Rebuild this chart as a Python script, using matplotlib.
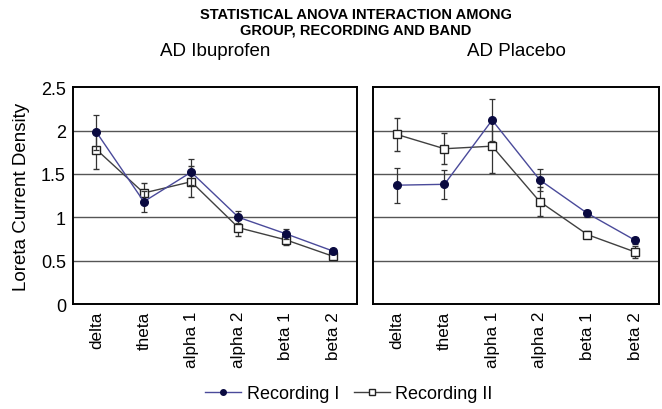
import matplotlib
matplotlib.use("Agg")
import matplotlib.pyplot as plt
from matplotlib.lines import Line2D
import numpy as np

plt.rcParams['font.family'] = ['Liberation Sans', 'DejaVu Sans']

bands = ['delta', 'theta', 'alpha 1', 'alpha 2', 'beta 1', 'beta 2']

# AD Ibuprofen
ibu_rec1 = [1.98, 1.18, 1.52, 1.00, 0.81, 0.61]
ibu_rec1_err = [0.20, 0.12, 0.15, 0.07, 0.06, 0.03]
ibu_rec2 = [1.78, 1.28, 1.41, 0.88, 0.74, 0.55]
ibu_rec2_err = [0.22, 0.12, 0.18, 0.10, 0.065, 0.03]

# AD Placebo
pla_rec1 = [1.37, 1.38, 2.12, 1.43, 1.045, 0.735]
pla_rec1_err = [0.20, 0.17, 0.24, 0.13, 0.04, 0.04]
pla_rec2 = [1.955, 1.79, 1.82, 1.18, 0.80, 0.60]
pla_rec2_err = [0.19, 0.18, 0.31, 0.17, 0.04, 0.07]

fig = plt.figure(figsize=(6.62, 4.10), dpi=100)
ax1 = fig.add_axes([0.110, 0.256, 0.429, 0.529])
ax2 = fig.add_axes([0.5634, 0.256, 0.432, 0.529])

x = np.arange(len(bands))

c1_line = '#4a4a9a'
c1_mark = '#0a0a40'
c2_line = '#404040'

def draw(ax, r1, e1, r2, e2, title):
    for y in [0.5, 1, 1.5, 2]:
        ax.axhline(y, color='#555555', lw=1.0, zorder=0)
    ax.errorbar(x, r2, yerr=e2, color=c2_line, lw=1.0, marker='s', ms=5.5,
                mfc='white', mec='#222222', mew=1.0, ecolor='#333333',
                elinewidth=0.9, capsize=2.5, capthick=0.9, zorder=2)
    ax.errorbar(x, r1, yerr=e1, color=c1_line, lw=1.0, marker='o', ms=5.5,
                mfc=c1_mark, mec=c1_mark, ecolor='#333333',
                elinewidth=0.9, capsize=2.5, capthick=0.9, zorder=3)
    ax.set_xlim(-0.5, 5.5)
    ax.set_ylim(0, 2.5)
    ax.set_xticks(x)
    ax.set_xticklabels(bands, rotation=90, fontsize=12.3)
    ax.tick_params(length=0, pad=5)
    for s in ax.spines.values():
        s.set_linewidth(1.4)
    ax.set_title(title, fontsize=13.5, pad=23)

draw(ax1, ibu_rec1, ibu_rec1_err, ibu_rec2, ibu_rec2_err, 'AD Ibuprofen')
draw(ax2, pla_rec1, pla_rec1_err, pla_rec2, pla_rec2_err, 'AD Placebo')

ax1.set_yticks([0, 0.5, 1, 1.5, 2, 2.5])
ax1.set_yticklabels(['0', '0.5', '1', '1.5', '2', '2.5'], fontsize=13)
ax1.set_ylabel('Loreta Current Density', fontsize=13.5, labelpad=8)
ax2.set_yticks([0.5, 1, 1.5, 2])
ax2.set_yticklabels([])

fig.text(0.537, 0.980, 'STATISTICAL ANOVA INTERACTION AMONG\nGROUP, RECORDING AND BAND',
         ha='center', va='top', fontsize=10.5, fontweight='bold', linespacing=1.1)

handles = [
    Line2D([], [], color=c1_line, lw=1.0, marker='o', ms=4, mfc=c1_mark, mec=c1_mark),
    Line2D([], [], color=c2_line, lw=1.0, marker='s', ms=4, mfc='white', mec='#222222'),
]
fig.legend(handles, ['Recording I', 'Recording II'], loc='center',
           bbox_to_anchor=(0.527, 0.037), ncol=2, frameon=False, fontsize=13,
           handlelength=2.0, columnspacing=0.8, handletextpad=0.3)

fig.savefig('out.png', dpi=100)
